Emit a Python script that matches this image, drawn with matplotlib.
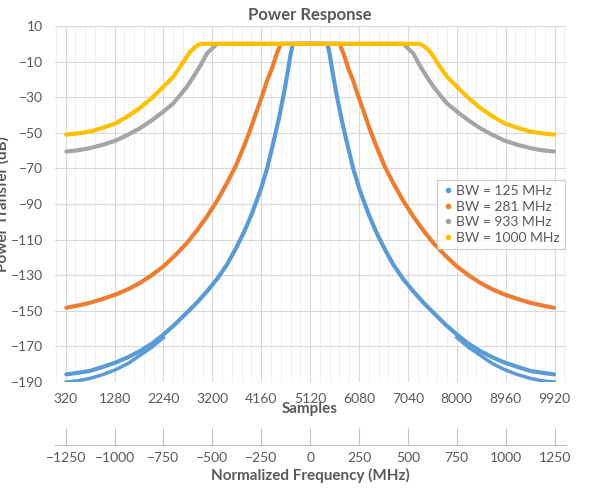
import numpy as np
import matplotlib
matplotlib.use("Agg")
import matplotlib.pyplot as plt
from matplotlib.lines import Line2D

plt.rcParams['font.family'] = ['Lato', 'DejaVu Sans']

# left half frequencies (MHz) and power (dB); mirrored for right half
f_1000 = [-1247, -1187, -1127, -1060, -993, -930, -870, -810, -750, -700, -664, -640, -613, -590, -562, 0]
p_1000 = [-51, -50.3, -49.3, -47.2, -44.6, -40.5, -36, -30.5, -24, -18.5, -12.8, -8.7, -4.4, -2, 0, 0]
f_933 = [-1247, -1187, -1127, -1060, -993, -930, -870, -810, -750, -700, -664, -630, -596, -560, -527, -500, -476, 0]
p_933 = [-60.5, -59.8, -58.6, -56.7, -54.3, -51, -47.4, -43, -38, -33.5, -28.7, -24, -18.4, -12, -5.3, -2.5, 0, 0]
f_281 = [-1247, -1187, -1127, -1060, -993, -930, -870, -810, -750, -690, -630, -580, -527, -475, -425,
         -380, -339, -305, -271, -245, -219, -195, -176, -165, -151, 0]
p_281 = [-148.3, -147, -145.5, -143.3, -140.8, -137.8, -134.3, -130, -125, -118.8, -111.9, -105, -96.9, -88, -78.2,
         -68.5, -57.7, -48, -37.1, -29, -20.3, -13.8, -7.2, -4, 0, 0]
f_125 = [-1247, -1187, -1127, -1060, -993, -930, -870, -810, -750, -690, -630, -580, -527, -475, -425,
         -380, -339, -300, -253, -220, -185, -160, -134, -115, -99, -90, -86, 0]
p_125 = [-185.7, -184.8, -183.8, -181.5, -179, -176, -172.6, -168.5, -163.3, -157.5, -151, -145.5, -139, -132, -124,
         -115, -106, -96, -82, -70, -54, -42, -27.8, -16, -5.3, -1, 0, 0]
# lower ripple envelope of the 125 MHz trace
f_125_low = [-1247, -1187, -1127, -1060, -993, -930, -870, -810, -750]
p_125_low = [-190, -189.3, -188, -185.8, -183, -179.5, -175, -170.5, -165]

sample_ticks = [320, 1280, 2240, 3200, 4160, 5120, 6080, 7040, 8000, 8960, 9920]
freq_ticks = [-1250, -1000, -750, -500, -250, 0, 250, 500, 750, 1000, 1250]
y_ticks = list(range(10, -191, -20))

MHZ_PER_SAMPLE = 1250 / 4800.0
def s2f(s):
    return (np.asarray(s, float) - 5120) * MHZ_PER_SAMPLE

def mirror(f, p):
    f = np.asarray(f, float); p = np.asarray(p, float)
    return np.concatenate([f, -f[::-1]]), np.concatenate([p, p[::-1]])

fig = plt.figure(figsize=(5.93, 5.01), dpi=100)
L, W = 0.092, 0.862
ax = fig.add_axes([L, 0.2375, W, 0.7105])
txt = '#595959'
xl = (-1307, 1307)

series = [(f_125, p_125, '#5B9BD5', 'BW = 125 MHz'),
          (f_281, p_281, '#ED7D31', 'BW = 281 MHz'),
          (f_933, p_933, '#A5A5A5', 'BW = 933 MHz'),
          (f_1000, p_1000, '#FFC000', 'BW = 1000 MHz')]
fl = np.asarray(f_125_low, float); pl = np.asarray(p_125_low, float)
ax.plot(fl, pl, color='#5B9BD5', lw=2.5)
ax.plot(-fl, pl, color='#5B9BD5', lw=2.5)
handles = []
for f, p, c, lab in series:
    x, y = mirror(f, p)
    ax.plot(x, y, color=c, lw=3, solid_capstyle='round', solid_joinstyle='round')
    handles.append(Line2D([], [], color=c, marker='o', ms=3, ls='none', label=lab))

ax.set_xlim(*xl)
ax.set_ylim(-190, 10)
ax.set_yticks(y_ticks)
ax.set_xticks(s2f(sample_ticks))
ax.set_xticklabels([str(s) for s in sample_ticks])
minor = np.arange(320 - 192, 10240, 192)
ax.set_xticks(s2f(minor), minor=True)
ax.grid(True, which='major', color='#D9D9D9', lw=0.8)
ax.grid(True, which='minor', axis='x', color='#EDEDED', lw=0.6)
ax.set_axisbelow(True)
for sp in ax.spines.values():
    sp.set_visible(False)
ax.tick_params(which='both', length=0, colors=txt, labelsize=10, pad=8)
ax.set_title('Power Response', fontsize=12, fontweight='bold', color=txt, pad=4)
ax.set_xlabel('Samples', fontsize=11, fontweight='bold', color=txt, labelpad=-2)
ax.set_ylabel('Power Transfer (dB)', fontsize=11, fontweight='bold', color=txt, labelpad=1)

ax2 = fig.add_axes([L, 0.112, W, 0.03])
ax2.set_xlim(*xl)
ax2.set_yticks([])
ax2.patch.set_alpha(0)
for k in ['top', 'left', 'right']:
    ax2.spines[k].set_visible(False)
ax2.spines['bottom'].set_color('#BFBFBF')
ax2.set_xticks(freq_ticks)
ax2.tick_params(axis='x', direction='in', length=12, color='#BFBFBF', labelcolor=txt, labelsize=10, pad=5)
ax2.set_xlabel('Normalized Frequency (MHz)', fontsize=11, fontweight='bold', color=txt, labelpad=3)

leg = fig.legend(handles=handles, loc='upper left', bbox_to_anchor=(0.725, 0.655),
                 fontsize=10, frameon=True, fancybox=False, handletextpad=0.2,
                 handlelength=0.8, borderpad=0.4, labelspacing=0.25, labelcolor=txt)
leg.get_frame().set_edgecolor('#BFBFBF')
leg.get_frame().set_linewidth(0.8)

fig.savefig('out.png', dpi=100)
